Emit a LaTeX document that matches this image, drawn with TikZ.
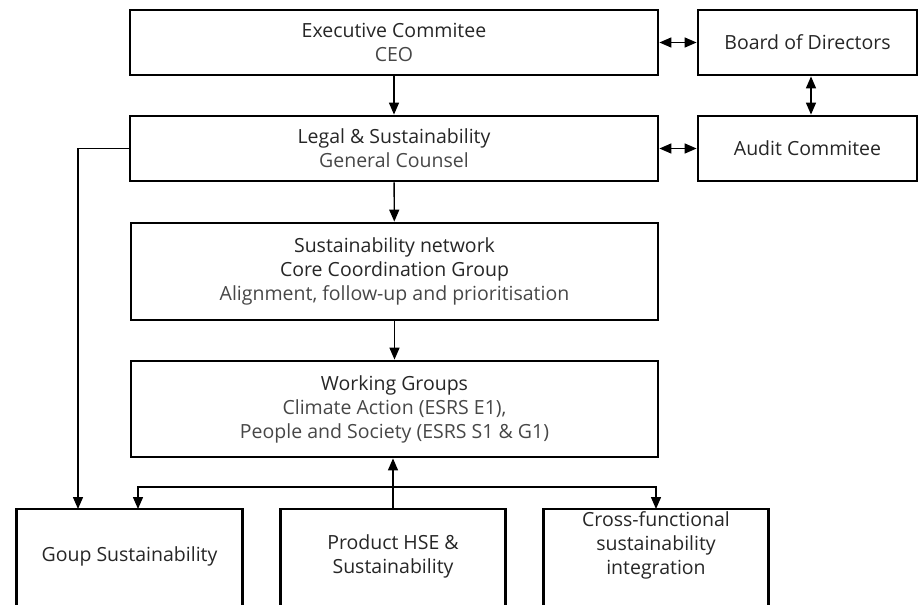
\documentclass[tikz,border=0pt]{standalone}
\usepackage{fontspec}
\setmainfont{Open Sans}
\usetikzlibrary{arrows.meta}
\definecolor{txt}{HTML}{262626}
\definecolor{subtxt}{HTML}{474747}
\begin{document}
\begin{tikzpicture}[x=1pt,y=-1pt,
  every node/.style={font=\fontsize{19.5}{24}\selectfont, text=txt, inner sep=0pt, align=center},
  box/.style={draw, line width=2.8pt, minimum height=65pt},
  frame/.style={minimum width=225pt, minimum height=96pt, anchor=north},
  link/.style={line width=1.4pt, -{Triangle[length=12pt,width=10pt]}},
  dlink/.style={line width=1.4pt, {Triangle[length=12pt,width=10pt]}-{Triangle[length=12pt,width=10pt]}}]
\useasboundingbox (0,0) rectangle (919,605);

% top level
\node[box, minimum width=528pt] (exec) at (394,42.5)
  {Executive Commitee\\ \color{subtxt}CEO};
\node[box, minimum width=219pt] (board) at (807.5,42.5) {Board of Directors};
\node[box, minimum width=528pt] (legal) at (394,148.5)
  {Legal \& Sustainability\\ \color{subtxt}General Counsel};
\node[box, minimum width=219pt] (audit) at (807.5,148.5) {Audit Commitee};

% coordination levels
\node[box, minimum width=527pt, minimum height=97pt] (core) at (394.5,271.5)
  {Sustainability network\\ Core Coordination Group\\ \color{subtxt}Alignment, follow-up and prioritisation};
\node[box, minimum width=527pt, minimum height=96pt] (wg) at (394.5,409)
  {Working Groups\\ \color{subtxt}Climate Action (ESRS E1),\\ \color{subtxt}People and Society (ESRS S1 \& G1)};

% bottom units (open at the lower edge)
\node[frame] (gs) at (129.5,509) {};
\node[frame] (ph) at (393,509) {};
\node[frame] (cf) at (656,509) {};
\foreach \b in {gs,ph,cf}
  \draw[line width=2.8pt] (\b.south west) -- (\b.north west) -- (\b.north east) -- (\b.south east);
\node (gst) at (129.5,556) {Goup Sustainability};
\node (pht) at (393,556) {Product HSE \&\\ Sustainability};
\node (cft) at (656,545) {Cross-functional\\ sustainability\\ integration};

% connectors
\draw[link] (exec) -- (legal);
\draw[link] (legal) -- (core);
\draw[link] (core) -- (wg);
\draw[dlink] (exec.east) -- (board.west);
\draw[dlink] (legal.east) -- (audit.west);
\draw[dlink] ([xshift=3.5pt]board.south) -- ([xshift=3.5pt]audit.north);

\coordinate (gsin) at (78,509);
\draw[link] (legal.west) -| (gsin);

\coordinate (busL) at (138,487);
\coordinate (busR) at (656,487);
\draw[link] (ph.north) -- (ph.north |- wg.south);
\draw[line width=1.4pt, {Triangle[length=12pt,width=10pt]}-{Triangle[length=12pt,width=10pt]}]
  (busL |- gs.north) -- (busL) -- (busR) -- (cf.north);
\end{tikzpicture}
\end{document}
